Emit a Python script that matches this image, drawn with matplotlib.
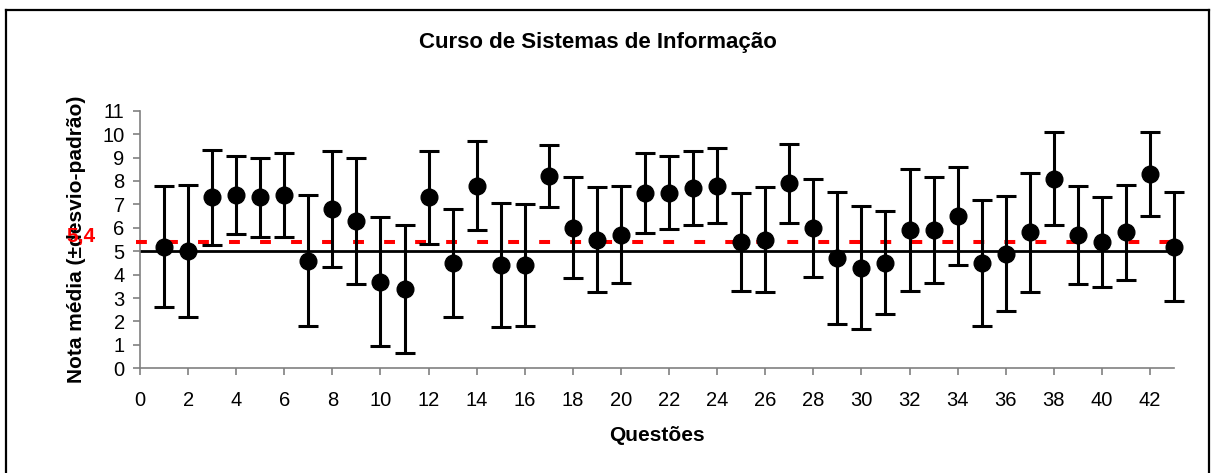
import matplotlib
matplotlib.use("Agg")
import matplotlib.pyplot as plt
from matplotlib.lines import Line2D

plt.rcParams['font.family'] = ['Liberation Sans', 'DejaVu Sans']

questions = list(range(1, 44))
means = [5.2, 5.0, 7.3, 7.4, 7.3, 7.4, 4.6, 6.8, 6.3, 3.7, 3.4, 7.3, 4.5, 7.8, 4.4,
         4.4, 8.2, 6.0, 5.5, 5.7, 7.5, 7.5, 7.7, 7.8, 5.4, 5.5, 7.9, 6.0, 4.7, 4.3,
         4.5, 5.9, 5.9, 6.5, 4.5, 4.9, 5.8, 8.1, 5.7, 5.4, 5.8, 8.3, 5.2]
sds = [2.60, 2.82, 2.03, 1.67, 1.68, 1.80, 2.80, 2.47, 2.68, 2.75, 2.74, 1.98, 2.30,
       1.90, 2.65, 2.60, 1.33, 2.16, 2.25, 2.07, 1.71, 1.55, 1.58, 1.60, 2.08, 2.23,
       1.68, 2.10, 2.81, 2.62, 2.20, 2.61, 2.27, 2.10, 2.69, 2.45, 2.53, 1.99, 2.08,
       1.91, 2.02, 1.80, 2.33]
reference_line = 5.0
overall_mean = 5.4
overall_label = "5,4"
xticks = list(range(0, 43, 2))
yticks = list(range(0, 12))

fig = plt.figure(figsize=(12.13, 4.73), dpi=100)
ax = fig.add_axes([0.1154, 0.2213, 0.8525, 0.5447])

ax.axhline(reference_line, color='black', lw=2.0, zorder=2)
ax.plot([-0.15, 43], [overall_mean, overall_mean], color='#ff0000', lw=2.9,
        linestyle=(0, (2.7, 5.0)), zorder=3, clip_on=False)
ax.errorbar(questions, means, yerr=sds, fmt='o', color='black', ecolor='black',
            markersize=12, elinewidth=2.2, capsize=7.5, capthick=2.2, zorder=4,
            clip_on=False)

ax.set_xlim(0, 43)
ax.set_ylim(0, 11)
ax.set_xticks(xticks)
ax.set_yticks(yticks)
ax.tick_params(axis='both', labelsize=14.5, color='#808080', length=5, width=1.2)
ax.tick_params(axis='x', pad=11)
ax.tick_params(axis='y', pad=6)
for s in ['top', 'right']:
    ax.spines[s].set_visible(False)
for s in ['left', 'bottom']:
    ax.spines[s].set_color('#808080')
    ax.spines[s].set_linewidth(1.2)

ax.set_xlabel('Questões', fontsize=15, fontweight='bold', va='center')
ax.xaxis.set_label_coords(0.5, -0.259)
ax.set_ylabel('Nota média (±desvio-padrão)', fontsize=15, fontweight='bold', va='center')
ax.yaxis.set_label_coords(-0.061, 0.5)

fig.text(0.493, 0.911, 'Curso de Sistemas de Informação', ha='center', va='center',
         fontsize=16, fontweight='bold')
fig.text(81 / 1213, 1 - 236 / 473, overall_label, ha='center', va='center',
         fontsize=15, fontweight='bold', color='#ff0000')

# outer frame
fx0, fx1, fy = 6 / 1213, 1209 / 1213, 1 - 10.5 / 473
for xs, ys in [([fx0, fx1], [fy, fy]), ([fx0, fx0], [-0.01, fy]), ([fx1, fx1], [-0.01, fy])]:
    fig.add_artist(Line2D(xs, ys, color='black', lw=1.6, transform=fig.transFigure))

fig.savefig('out.png', dpi=100, facecolor='white')
